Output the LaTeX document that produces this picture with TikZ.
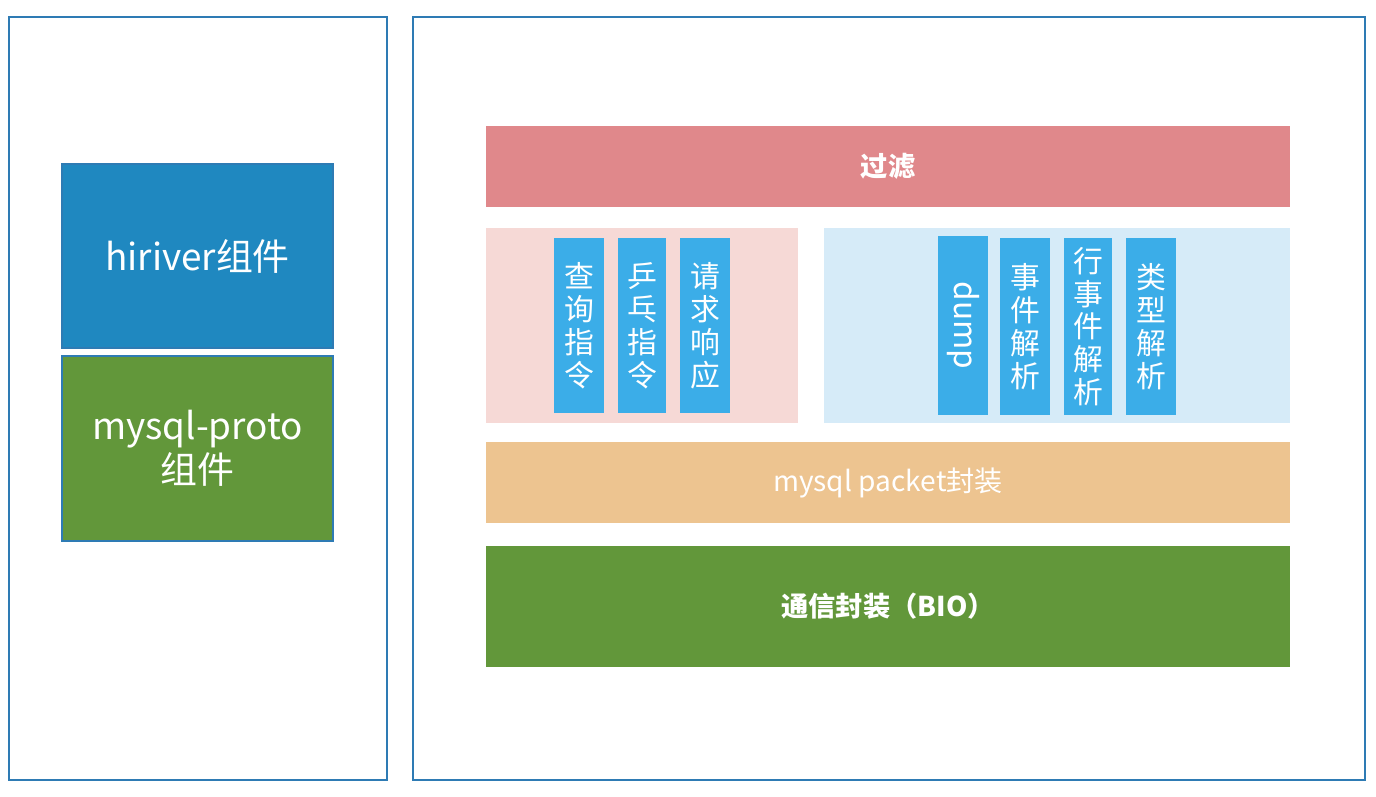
\documentclass[tikz,border=0pt]{standalone}
\usepackage{fontspec}
\setmainfont{Noto Sans CJK SC}
\usepackage{tikz}

\definecolor{framec}{HTML}{2E7BB4}
\definecolor{hiriverc}{HTML}{1F88C0}
\definecolor{protoc}{HTML}{62973A}
\definecolor{filterc}{HTML}{E0888B}
\definecolor{pinkc}{HTML}{F6D9D6}
\definecolor{skyc}{HTML}{D6EBF8}
\definecolor{colc}{HTML}{3BADE8}
\definecolor{packetc}{HTML}{EDC490}

\begin{document}
\begin{tikzpicture}[
  x=0.02cm, y=-0.02cm,
  frame/.style={draw=framec, line width=0.9pt, inner sep=0pt},
  comp/.style={draw=framec, line width=0.9pt, inner sep=0pt, text=white, font=\fontsize{21}{25}\selectfont, align=center},
  layer/.style={inner sep=0pt, text=white, minimum width=16.08cm, font=\fontsize{16}{19}\selectfont},
  panel/.style={inner sep=0pt, minimum height=3.9cm},
  col/.style={fill=colc, inner sep=0pt, text=white, minimum width=1cm, align=center, font=\fontsize{17}{18.7}\selectfont}]

\useasboundingbox (0,0) rectangle (1376,796);

% The two outer frames
\node[frame, minimum width=7.56cm, minimum height=15.26cm] (leftframe) at (198,398.5) {};
\node[frame, minimum width=19.04cm, minimum height=15.26cm] (rightframe) at (889,398.5) {};

% Components on the left
\node[comp, fill=hiriverc, minimum width=5.42cm, minimum height=3.68cm] (hiriver) at (197.5,256) {hiriver组件};
\node[comp, fill=protoc, minimum width=5.42cm, minimum height=3.70cm] (proto) at (197.5,448.5) {mysql-proto\\组件};

% Layers on the right
\node[layer, fill=filterc, minimum height=1.62cm, font=\fontsize{15.5}{19}\selectfont\bfseries] (filter) at (888,166.5) {过滤};
\node[panel, fill=pinkc, minimum width=6.24cm] (command) at (642,325.5) {};
\node[panel, fill=skyc, minimum width=9.32cm] (binlog) at (1057,325.5) {};
\node[layer, fill=packetc, minimum height=1.62cm] (packet) at (888,482.5) {mysql packet封装};
\node[layer, fill=protoc, minimum height=2.42cm, font=\fontsize{15.5}{19}\selectfont\bfseries] (bio) at (888,606.5) {通信封装（BIO）};

% Columns inside the panels
\node[col, minimum height=3.5cm] (query) at (579,325.5) {查\\询\\指\\令};
\node[col, minimum height=3.5cm, minimum width=0.96cm] (ping) at (642,325.5) {乒\\乓\\指\\令};
\node[col, minimum height=3.5cm] (response) at (705,325.5) {请\\求\\响\\应};
\node[col, minimum height=3.58cm] (dump) at (963,325.5) {};
\node[rotate=-90, text=white, font=\fontsize{18}{20}\selectfont] (dumptext) at (dump.center) {dump};
\node[col, minimum height=3.54cm] (event) at (1025,326.5) {事\\件\\解\\析};
\node[col, minimum height=3.54cm, minimum width=0.96cm] (rowevent) at (1088,326.5) {行\\事\\件\\解\\析};
\node[col, minimum height=3.54cm] (type) at (1151,326.5) {类\\型\\解\\析};

\end{tikzpicture}
\end{document}
